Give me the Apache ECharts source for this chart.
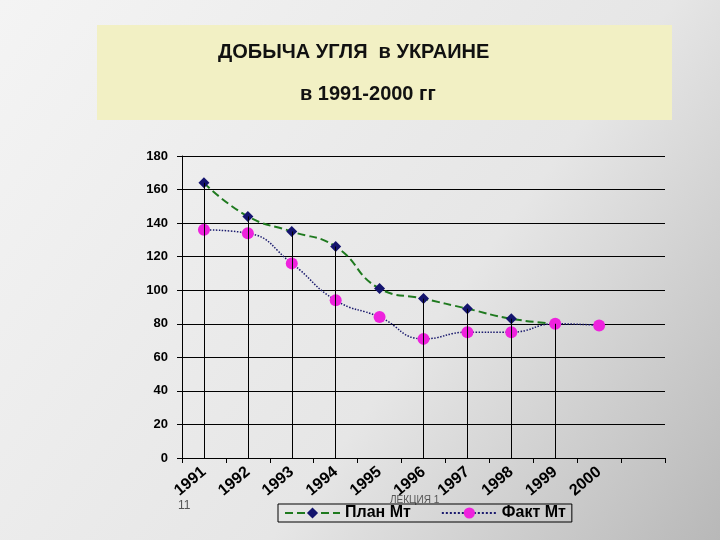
<!DOCTYPE html>
<html>
<head>
<meta charset="utf-8">
<script src="https://cdn.jsdelivr.net/npm/echarts@6/dist/echarts.min.js"></script>
<style>html,body{margin:0;padding:0}#c{width:720px;height:540px}</style>
</head>
<body>
<div id="c"></div>
<script>
// Добыча угля, млн т
var years = ["1991", "1992", "1993", "1994", "1995", "1996", "1997", "1998", "1999", "2000", ""];
var plan = [164, 144, 135, 126, 101, 95, 89, 83, 80, null, null];
var fact = [136, 134, 116, 94, 84, 71, 75, 75, 80, 79, null];
var dropIdx = [0, 1, 2, 3, 5, 6, 7, 8];

var chart = echarts.init(document.getElementById("c"));

var drops = dropIdx.map(function (i) {
  var top = Math.max(plan[i] || 0, fact[i] || 0);
  return [{ coord: [years[i], top] }, { coord: [years[i], 0] }];
});

var option = {
  backgroundColor: {
    type: "linear", x: 0, y: 0, x2: 1, y2: 1,
    colorStops: [{ offset: 0, color: "#f4f4f4" }, { offset: 0.6, color: "#e6e6e6" }, { offset: 1, color: "#b8b8b8" }]
  },
  animation: false,
  graphic: [
    { type: "rect", shape: { x: 97, y: 25, width: 575, height: 95 }, style: { fill: "#f2f0c4" } },
    { type: "text", left: 218, top: 42, style: { text: "ДОБЫЧА УГЛЯ  в УКРАИНЕ", font: "bold 20px Liberation Sans", fill: "#111" } },
    { type: "text", left: 300, top: 84, style: { text: "в 1991-2000 гг", font: "bold 20px Liberation Sans", fill: "#111" } },
    { type: "text", left: 178, top: 500, style: { text: "11", font: "12px Liberation Sans", fill: "#555" } },
    { type: "text", left: 390, top: 495, style: { text: "ЛЕКЦИЯ 1", font: "10px Liberation Sans", fill: "#555" } }
  ],
  grid: { left: 182, right: 55, top: 156, bottom: 82 },
  legend: {
    bottom: 18, left: 278, itemGap: 30, itemWidth: 55,
    borderColor: "#000", borderWidth: 1, padding: [1, 6],
    textStyle: { fontFamily: "Liberation Sans", fontWeight: "bold", fontSize: 16, color: "#000" },
    data: ["План Мт", "Факт Мт"]
  },
  xAxis: {
    type: "category", data: years, boundaryGap: true,
    axisLine: { lineStyle: { color: "#000" } },
    axisTick: { show: true, lineStyle: { color: "#000" } },
    axisLabel: { rotate: 40, color: "#000", fontWeight: "bold", fontSize: 16, fontFamily: "Liberation Sans", margin: 12 }
  },
  yAxis: {
    type: "value", min: 0, max: 180, interval: 20,
    axisLine: { show: true, lineStyle: { color: "#000" } },
    axisTick: { show: true, lineStyle: { color: "#000" } },
    axisLabel: { color: "#000", fontWeight: "bold", fontSize: 13, fontFamily: "Liberation Sans", margin: 14 },
    splitLine: { lineStyle: { color: "#000", width: 1 } }
  },
  series: [
    {
      name: "План Мт", type: "line", smooth: true, data: plan,
      symbol: "diamond", symbolSize: 11, z: 3,
      lineStyle: { color: "#1f7a1f", width: 2, type: "dashed" },
      itemStyle: { color: "#14146e" },
      markLine: { silent: true, symbol: "none", label: { show: false }, lineStyle: { color: "#000", width: 1, type: "solid" }, data: drops }
    },
    {
      name: "Факт Мт", type: "line", smooth: true, data: fact,
      symbol: "circle", symbolSize: 12, z: 4,
      lineStyle: { color: "#1a1a6e", width: 1.5, type: "dotted" },
      itemStyle: { color: "#ee22dd" }
    }
  ]
};

chart.setOption(option);
</script>
</body>
</html>
